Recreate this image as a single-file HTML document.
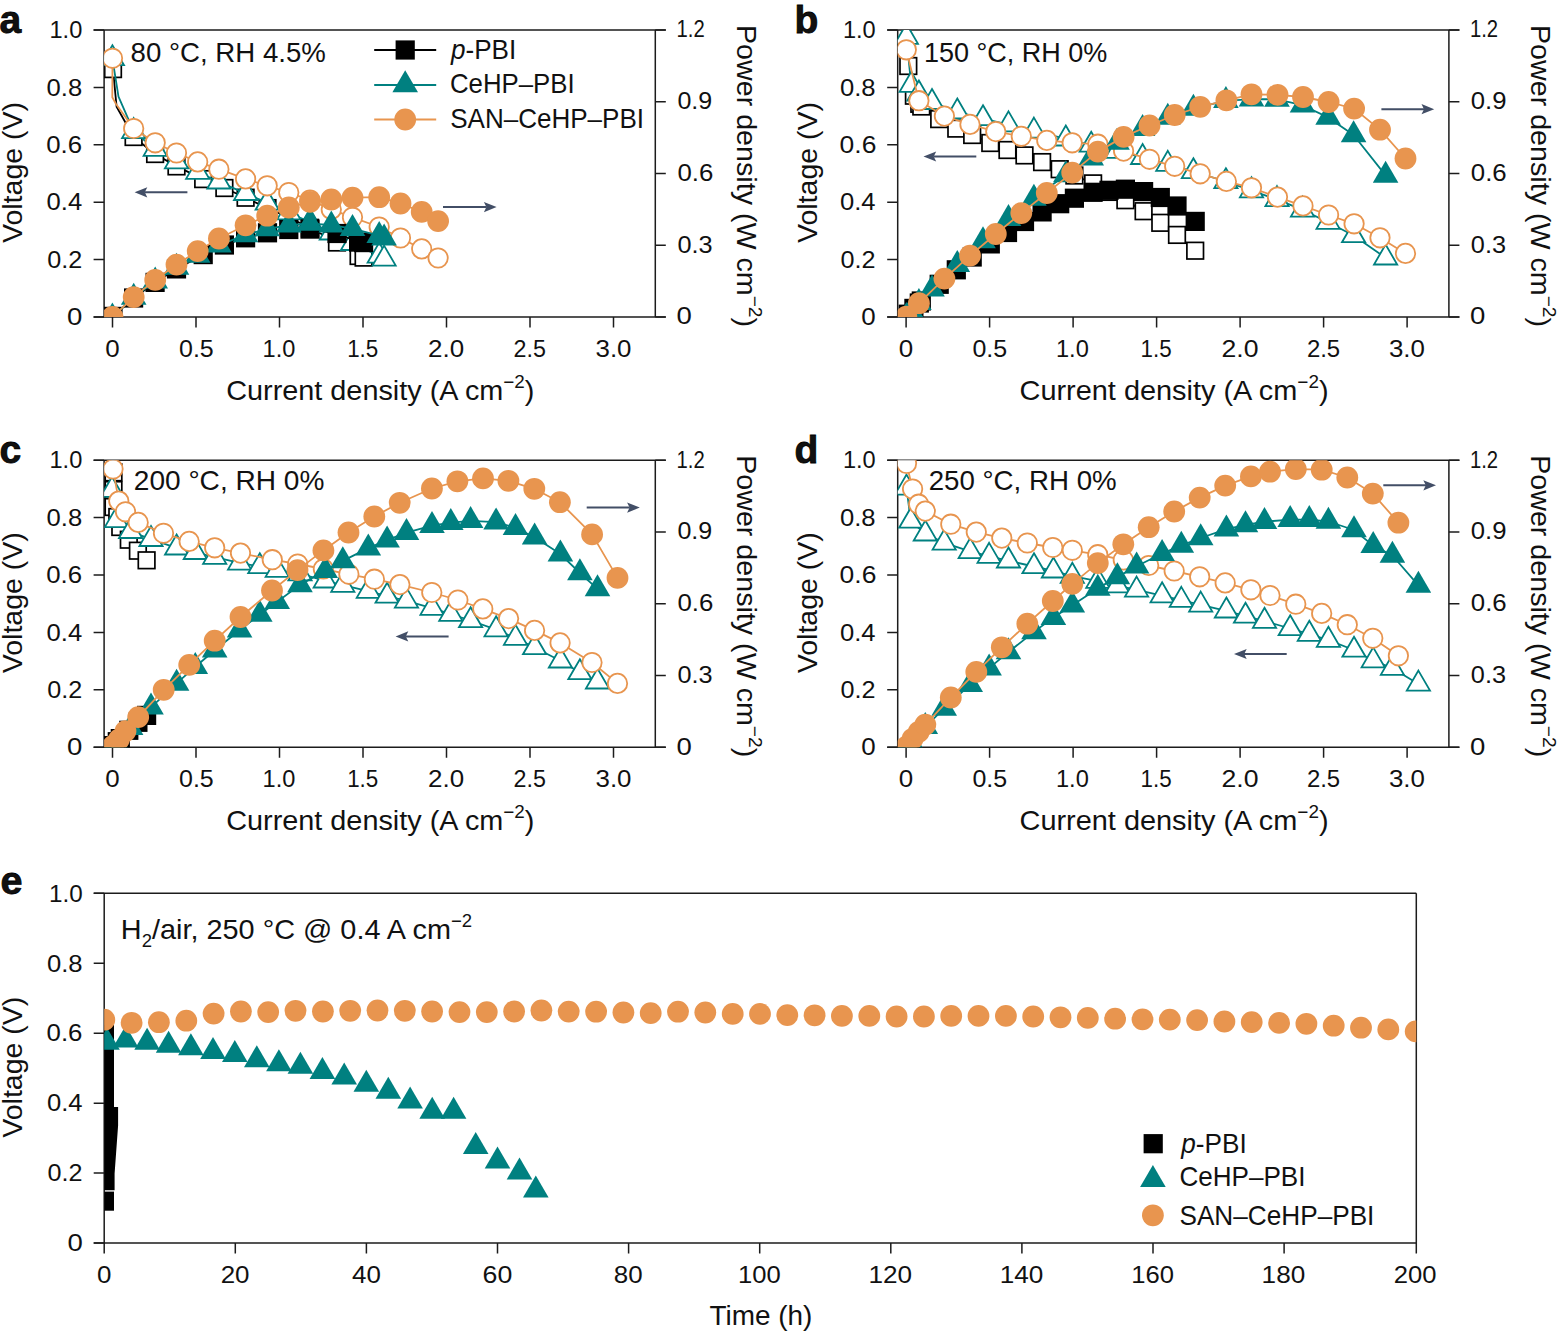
<!DOCTYPE html>
<html><head><meta charset="utf-8"><style>
html,body{margin:0;padding:0;background:#fff;}
svg{display:block;font-family:"Liberation Sans", sans-serif;}
</style></head><body>
<svg width="1566" height="1331" viewBox="0 0 1566 1331" fill="#111">
<path d="M93.6 30.0H665.8M93.6 317.0H665.8M104.1 30.0V317.0M655.3 30.0V317.0" stroke="#1c1c1c" stroke-width="1.5" fill="none"/>
<text x="67.04" y="325.2" font-size="24" font-weight="normal" textLength="15.34" lengthAdjust="spacingAndGlyphs" >0</text>
<text x="47.20" y="267.8" font-size="24" font-weight="normal" textLength="34.99" lengthAdjust="spacingAndGlyphs" >0.2</text>
<text x="46.57" y="210.4" font-size="24" font-weight="normal" textLength="35.62" lengthAdjust="spacingAndGlyphs" >0.4</text>
<text x="46.20" y="153.0" font-size="24" font-weight="normal" textLength="35.90" lengthAdjust="spacingAndGlyphs" >0.6</text>
<text x="46.57" y="95.6" font-size="24" font-weight="normal" textLength="35.62" lengthAdjust="spacingAndGlyphs" >0.8</text>
<text x="49.46" y="38.2" font-size="24" font-weight="normal" textLength="32.83" lengthAdjust="spacingAndGlyphs" >1.0</text>
<text x="676.52" y="324.4" font-size="24" font-weight="normal" textLength="15.34" lengthAdjust="spacingAndGlyphs" >0</text>
<text x="677.42" y="252.7" font-size="24" font-weight="normal" textLength="35.17" lengthAdjust="spacingAndGlyphs" >0.3</text>
<text x="677.42" y="180.9" font-size="24" font-weight="normal" textLength="35.90" lengthAdjust="spacingAndGlyphs" >0.6</text>
<text x="677.42" y="109.2" font-size="24" font-weight="normal" textLength="34.82" lengthAdjust="spacingAndGlyphs" >0.9</text>
<text x="676.52" y="37.4" font-size="24" font-weight="normal" textLength="28.15" lengthAdjust="spacingAndGlyphs" >1.2</text>
<text x="105.26" y="357.2" font-size="24" font-weight="normal" textLength="14.44" lengthAdjust="spacingAndGlyphs" >0</text>
<text x="179.03" y="357.2" font-size="24" font-weight="normal" textLength="34.73" lengthAdjust="spacingAndGlyphs" >0.5</text>
<text x="262.57" y="357.2" font-size="24" font-weight="normal" textLength="32.83" lengthAdjust="spacingAndGlyphs" >1.0</text>
<text x="347.18" y="357.2" font-size="24" font-weight="normal" textLength="31.12" lengthAdjust="spacingAndGlyphs" >1.5</text>
<text x="428.10" y="357.2" font-size="24" font-weight="normal" textLength="36.08" lengthAdjust="spacingAndGlyphs" >2.0</text>
<text x="513.50" y="357.2" font-size="24" font-weight="normal" textLength="32.38" lengthAdjust="spacingAndGlyphs" >2.5</text>
<text x="595.50" y="357.2" font-size="24" font-weight="normal" textLength="35.98" lengthAdjust="spacingAndGlyphs" >3.0</text>
<path d="M93.6 317.0H104.1M93.6 259.6H104.1M93.6 202.2H104.1M93.6 144.8H104.1M93.6 87.4H104.1M93.6 30.0H104.1M655.3 317.0H665.8M655.3 245.2H665.8M655.3 173.5H665.8M655.3 101.8H665.8M655.3 30.0H665.8M112.5 317.0V327.5M196.0 317.0V327.5M279.5 317.0V327.5M363.0 317.0V327.5M446.5 317.0V327.5M530.0 317.0V327.5M613.5 317.0V327.5" stroke="#1c1c1c" stroke-width="1.5" fill="none"/>
<text x="226.24" y="400.0" font-size="27.5" font-weight="normal" textLength="308.21" lengthAdjust="spacingAndGlyphs" >Current density (A cm<tspan dy="-12" font-size="18">&#8722;2</tspan><tspan dy="12">)</tspan></text>
<text transform="translate(21.6,243.0) rotate(-90)" font-size="27" x="0" y="0" textLength="141" lengthAdjust="spacingAndGlyphs">Voltage (V)</text>
<text transform="translate(737.3,25.0) rotate(90)" font-size="27" x="0" y="0" textLength="302" lengthAdjust="spacingAndGlyphs">Power density (W cm<tspan dy="-12" font-size="18">&#8722;2</tspan><tspan dy="12">)</tspan></text>
<text x="-0.4" y="33.0" font-size="39" text-anchor="start" font-weight="bold" stroke="#000" stroke-width="0.8">a</text>
<text x="130.62" y="62.0" font-size="28" font-weight="normal" textLength="195.33" lengthAdjust="spacingAndGlyphs" >80 °C, RH 4.5%</text>
<path d="M887.2 30.0H1459.4M887.2 317.0H1459.4M897.7 30.0V317.0M1448.9 30.0V317.0" stroke="#1c1c1c" stroke-width="1.5" fill="none"/>
<text x="861.36" y="325.2" font-size="24" font-weight="normal" textLength="14.44" lengthAdjust="spacingAndGlyphs" >0</text>
<text x="840.62" y="267.8" font-size="24" font-weight="normal" textLength="35.00" lengthAdjust="spacingAndGlyphs" >0.2</text>
<text x="839.99" y="210.4" font-size="24" font-weight="normal" textLength="35.63" lengthAdjust="spacingAndGlyphs" >0.4</text>
<text x="839.62" y="153.0" font-size="24" font-weight="normal" textLength="36.80" lengthAdjust="spacingAndGlyphs" >0.6</text>
<text x="839.99" y="95.6" font-size="24" font-weight="normal" textLength="35.62" lengthAdjust="spacingAndGlyphs" >0.8</text>
<text x="842.88" y="38.2" font-size="24" font-weight="normal" textLength="32.83" lengthAdjust="spacingAndGlyphs" >1.0</text>
<text x="1469.94" y="324.4" font-size="24" font-weight="normal" textLength="15.34" lengthAdjust="spacingAndGlyphs" >0</text>
<text x="1470.84" y="252.7" font-size="24" font-weight="normal" textLength="35.17" lengthAdjust="spacingAndGlyphs" >0.3</text>
<text x="1470.84" y="180.9" font-size="24" font-weight="normal" textLength="35.89" lengthAdjust="spacingAndGlyphs" >0.6</text>
<text x="1470.84" y="109.2" font-size="24" font-weight="normal" textLength="35.72" lengthAdjust="spacingAndGlyphs" >0.9</text>
<text x="1469.94" y="37.4" font-size="24" font-weight="normal" textLength="28.16" lengthAdjust="spacingAndGlyphs" >1.2</text>
<text x="898.68" y="357.2" font-size="24" font-weight="normal" textLength="14.44" lengthAdjust="spacingAndGlyphs" >0</text>
<text x="972.45" y="357.2" font-size="24" font-weight="normal" textLength="34.73" lengthAdjust="spacingAndGlyphs" >0.5</text>
<text x="1055.99" y="357.2" font-size="24" font-weight="normal" textLength="32.84" lengthAdjust="spacingAndGlyphs" >1.0</text>
<text x="1140.59" y="357.2" font-size="24" font-weight="normal" textLength="31.12" lengthAdjust="spacingAndGlyphs" >1.5</text>
<text x="1221.52" y="357.2" font-size="24" font-weight="normal" textLength="36.98" lengthAdjust="spacingAndGlyphs" >2.0</text>
<text x="1306.91" y="357.2" font-size="24" font-weight="normal" textLength="33.29" lengthAdjust="spacingAndGlyphs" >2.5</text>
<text x="1388.91" y="357.2" font-size="24" font-weight="normal" textLength="35.99" lengthAdjust="spacingAndGlyphs" >3.0</text>
<path d="M887.2 317.0H897.7M887.2 259.6H897.7M887.2 202.2H897.7M887.2 144.8H897.7M887.2 87.4H897.7M887.2 30.0H897.7M1448.9 317.0H1459.4M1448.9 245.2H1459.4M1448.9 173.5H1459.4M1448.9 101.8H1459.4M1448.9 30.0H1459.4M906.1 317.0V327.5M989.6 317.0V327.5M1073.1 317.0V327.5M1156.6 317.0V327.5M1240.1 317.0V327.5M1323.6 317.0V327.5M1407.1 317.0V327.5" stroke="#1c1c1c" stroke-width="1.5" fill="none"/>
<text x="1019.56" y="400.0" font-size="27.5" font-weight="normal" textLength="309.01" lengthAdjust="spacingAndGlyphs" >Current density (A cm<tspan dy="-12" font-size="18">&#8722;2</tspan><tspan dy="12">)</tspan></text>
<text transform="translate(817.0,243.0) rotate(-90)" font-size="27" x="0" y="0" textLength="141" lengthAdjust="spacingAndGlyphs">Voltage (V)</text>
<text transform="translate(1530.9,25.0) rotate(90)" font-size="27" x="0" y="0" textLength="302" lengthAdjust="spacingAndGlyphs">Power density (W cm<tspan dy="-12" font-size="18">&#8722;2</tspan><tspan dy="12">)</tspan></text>
<text x="794.4" y="33.0" font-size="39" text-anchor="start" font-weight="bold" stroke="#000" stroke-width="0.8">b</text>
<text x="923.95" y="62.0" font-size="28" font-weight="normal" textLength="183.41" lengthAdjust="spacingAndGlyphs" >150 °C, RH 0%</text>
<path d="M93.6 460.2H665.8M93.6 747.2H665.8M104.1 460.2V747.2M655.3 460.2V747.2" stroke="#1c1c1c" stroke-width="1.5" fill="none"/>
<text x="67.04" y="755.4" font-size="24" font-weight="normal" textLength="15.34" lengthAdjust="spacingAndGlyphs" >0</text>
<text x="47.20" y="698.0" font-size="24" font-weight="normal" textLength="34.99" lengthAdjust="spacingAndGlyphs" >0.2</text>
<text x="46.57" y="640.6" font-size="24" font-weight="normal" textLength="35.62" lengthAdjust="spacingAndGlyphs" >0.4</text>
<text x="46.20" y="583.2" font-size="24" font-weight="normal" textLength="35.90" lengthAdjust="spacingAndGlyphs" >0.6</text>
<text x="46.57" y="525.8" font-size="24" font-weight="normal" textLength="35.62" lengthAdjust="spacingAndGlyphs" >0.8</text>
<text x="49.46" y="468.4" font-size="24" font-weight="normal" textLength="32.83" lengthAdjust="spacingAndGlyphs" >1.0</text>
<text x="676.52" y="754.6" font-size="24" font-weight="normal" textLength="15.34" lengthAdjust="spacingAndGlyphs" >0</text>
<text x="677.42" y="682.9" font-size="24" font-weight="normal" textLength="35.17" lengthAdjust="spacingAndGlyphs" >0.3</text>
<text x="677.42" y="611.1" font-size="24" font-weight="normal" textLength="35.90" lengthAdjust="spacingAndGlyphs" >0.6</text>
<text x="677.42" y="539.4" font-size="24" font-weight="normal" textLength="34.82" lengthAdjust="spacingAndGlyphs" >0.9</text>
<text x="676.52" y="467.6" font-size="24" font-weight="normal" textLength="28.15" lengthAdjust="spacingAndGlyphs" >1.2</text>
<text x="105.26" y="787.4" font-size="24" font-weight="normal" textLength="14.44" lengthAdjust="spacingAndGlyphs" >0</text>
<text x="179.03" y="787.4" font-size="24" font-weight="normal" textLength="34.73" lengthAdjust="spacingAndGlyphs" >0.5</text>
<text x="262.57" y="787.4" font-size="24" font-weight="normal" textLength="32.83" lengthAdjust="spacingAndGlyphs" >1.0</text>
<text x="347.18" y="787.4" font-size="24" font-weight="normal" textLength="31.12" lengthAdjust="spacingAndGlyphs" >1.5</text>
<text x="428.10" y="787.4" font-size="24" font-weight="normal" textLength="36.08" lengthAdjust="spacingAndGlyphs" >2.0</text>
<text x="513.50" y="787.4" font-size="24" font-weight="normal" textLength="32.38" lengthAdjust="spacingAndGlyphs" >2.5</text>
<text x="595.50" y="787.4" font-size="24" font-weight="normal" textLength="35.98" lengthAdjust="spacingAndGlyphs" >3.0</text>
<path d="M93.6 747.2H104.1M93.6 689.8H104.1M93.6 632.4H104.1M93.6 575.0H104.1M93.6 517.6H104.1M93.6 460.2H104.1M655.3 747.2H665.8M655.3 675.5H665.8M655.3 603.7H665.8M655.3 532.0H665.8M655.3 460.2H665.8M112.5 747.2V757.7M196.0 747.2V757.7M279.5 747.2V757.7M363.0 747.2V757.7M446.5 747.2V757.7M530.0 747.2V757.7M613.5 747.2V757.7" stroke="#1c1c1c" stroke-width="1.5" fill="none"/>
<text x="226.24" y="830.2" font-size="27.5" font-weight="normal" textLength="308.21" lengthAdjust="spacingAndGlyphs" >Current density (A cm<tspan dy="-12" font-size="18">&#8722;2</tspan><tspan dy="12">)</tspan></text>
<text transform="translate(21.6,673.2) rotate(-90)" font-size="27" x="0" y="0" textLength="141" lengthAdjust="spacingAndGlyphs">Voltage (V)</text>
<text transform="translate(737.3,455.2) rotate(90)" font-size="27" x="0" y="0" textLength="302" lengthAdjust="spacingAndGlyphs">Power density (W cm<tspan dy="-12" font-size="18">&#8722;2</tspan><tspan dy="12">)</tspan></text>
<text x="-0.4" y="463.2" font-size="39" text-anchor="start" font-weight="bold" stroke="#000" stroke-width="0.8">c</text>
<text x="133.81" y="490.0" font-size="28" font-weight="normal" textLength="190.55" lengthAdjust="spacingAndGlyphs" >200 °C, RH 0%</text>
<path d="M887.2 460.2H1459.4M887.2 747.2H1459.4M897.7 460.2V747.2M1448.9 460.2V747.2" stroke="#1c1c1c" stroke-width="1.5" fill="none"/>
<text x="861.36" y="755.4" font-size="24" font-weight="normal" textLength="14.44" lengthAdjust="spacingAndGlyphs" >0</text>
<text x="840.62" y="698.0" font-size="24" font-weight="normal" textLength="35.00" lengthAdjust="spacingAndGlyphs" >0.2</text>
<text x="839.99" y="640.6" font-size="24" font-weight="normal" textLength="35.63" lengthAdjust="spacingAndGlyphs" >0.4</text>
<text x="839.62" y="583.2" font-size="24" font-weight="normal" textLength="36.80" lengthAdjust="spacingAndGlyphs" >0.6</text>
<text x="839.99" y="525.8" font-size="24" font-weight="normal" textLength="35.62" lengthAdjust="spacingAndGlyphs" >0.8</text>
<text x="842.88" y="468.4" font-size="24" font-weight="normal" textLength="32.83" lengthAdjust="spacingAndGlyphs" >1.0</text>
<text x="1469.94" y="754.6" font-size="24" font-weight="normal" textLength="15.34" lengthAdjust="spacingAndGlyphs" >0</text>
<text x="1470.84" y="682.9" font-size="24" font-weight="normal" textLength="35.17" lengthAdjust="spacingAndGlyphs" >0.3</text>
<text x="1470.84" y="611.1" font-size="24" font-weight="normal" textLength="35.89" lengthAdjust="spacingAndGlyphs" >0.6</text>
<text x="1470.84" y="539.4" font-size="24" font-weight="normal" textLength="35.72" lengthAdjust="spacingAndGlyphs" >0.9</text>
<text x="1469.94" y="467.6" font-size="24" font-weight="normal" textLength="28.16" lengthAdjust="spacingAndGlyphs" >1.2</text>
<text x="898.68" y="787.4" font-size="24" font-weight="normal" textLength="14.44" lengthAdjust="spacingAndGlyphs" >0</text>
<text x="972.45" y="787.4" font-size="24" font-weight="normal" textLength="34.73" lengthAdjust="spacingAndGlyphs" >0.5</text>
<text x="1055.99" y="787.4" font-size="24" font-weight="normal" textLength="32.84" lengthAdjust="spacingAndGlyphs" >1.0</text>
<text x="1140.59" y="787.4" font-size="24" font-weight="normal" textLength="31.12" lengthAdjust="spacingAndGlyphs" >1.5</text>
<text x="1221.52" y="787.4" font-size="24" font-weight="normal" textLength="36.98" lengthAdjust="spacingAndGlyphs" >2.0</text>
<text x="1306.91" y="787.4" font-size="24" font-weight="normal" textLength="33.29" lengthAdjust="spacingAndGlyphs" >2.5</text>
<text x="1388.91" y="787.4" font-size="24" font-weight="normal" textLength="35.99" lengthAdjust="spacingAndGlyphs" >3.0</text>
<path d="M887.2 747.2H897.7M887.2 689.8H897.7M887.2 632.4H897.7M887.2 575.0H897.7M887.2 517.6H897.7M887.2 460.2H897.7M1448.9 747.2H1459.4M1448.9 675.5H1459.4M1448.9 603.7H1459.4M1448.9 532.0H1459.4M1448.9 460.2H1459.4M906.1 747.2V757.7M989.6 747.2V757.7M1073.1 747.2V757.7M1156.6 747.2V757.7M1240.1 747.2V757.7M1323.6 747.2V757.7M1407.1 747.2V757.7" stroke="#1c1c1c" stroke-width="1.5" fill="none"/>
<text x="1019.56" y="830.2" font-size="27.5" font-weight="normal" textLength="309.01" lengthAdjust="spacingAndGlyphs" >Current density (A cm<tspan dy="-12" font-size="18">&#8722;2</tspan><tspan dy="12">)</tspan></text>
<text transform="translate(817.0,673.2) rotate(-90)" font-size="27" x="0" y="0" textLength="141" lengthAdjust="spacingAndGlyphs">Voltage (V)</text>
<text transform="translate(1530.9,455.2) rotate(90)" font-size="27" x="0" y="0" textLength="302" lengthAdjust="spacingAndGlyphs">Power density (W cm<tspan dy="-12" font-size="18">&#8722;2</tspan><tspan dy="12">)</tspan></text>
<text x="794.4" y="463.2" font-size="39" text-anchor="start" font-weight="bold" stroke="#000" stroke-width="0.8">d</text>
<text x="928.67" y="490.0" font-size="28" font-weight="normal" textLength="188.02" lengthAdjust="spacingAndGlyphs" >250 °C, RH 0%</text>
<clipPath id="clip00"><rect x="104.1" y="30.0" width="551.2" height="287.0"/></clipPath>
<g clip-path="url(#clip00)">
<path d="M113.0 69.1L116.6 106.8L133.6 137.0L155.1 154.0L176.5 166.4L203.2 179.1L224.4 188.0L245.6 197.7L267.5 208.1L288.8 217.5L310.0 227.8L337.0 242.5L358.6 256.0L363.6 257.6" fill="none" stroke="#000" stroke-width="1.8" stroke-linejoin="round"/><rect x="104.7" y="60.8" width="16.6" height="16.6" fill="#fff" stroke="#000" stroke-width="1.7"/><rect x="125.3" y="128.7" width="16.6" height="16.6" fill="#fff" stroke="#000" stroke-width="1.7"/><rect x="146.8" y="145.7" width="16.6" height="16.6" fill="#fff" stroke="#000" stroke-width="1.7"/><rect x="168.2" y="158.1" width="16.6" height="16.6" fill="#fff" stroke="#000" stroke-width="1.7"/><rect x="194.9" y="170.8" width="16.6" height="16.6" fill="#fff" stroke="#000" stroke-width="1.7"/><rect x="216.1" y="179.7" width="16.6" height="16.6" fill="#fff" stroke="#000" stroke-width="1.7"/><rect x="237.3" y="189.4" width="16.6" height="16.6" fill="#fff" stroke="#000" stroke-width="1.7"/><rect x="259.2" y="199.8" width="16.6" height="16.6" fill="#fff" stroke="#000" stroke-width="1.7"/><rect x="280.5" y="209.2" width="16.6" height="16.6" fill="#fff" stroke="#000" stroke-width="1.7"/><rect x="301.7" y="219.5" width="16.6" height="16.6" fill="#fff" stroke="#000" stroke-width="1.7"/><rect x="328.7" y="234.2" width="16.6" height="16.6" fill="#fff" stroke="#000" stroke-width="1.7"/><rect x="350.3" y="247.7" width="16.6" height="16.6" fill="#fff" stroke="#000" stroke-width="1.7"/><rect x="355.3" y="249.3" width="16.6" height="16.6" fill="#fff" stroke="#000" stroke-width="1.7"/>
<path d="M112.4 58.5L118.5 96.6L133.7 131.4L155.2 149.2L176.5 161.7L197.7 172.1L218.9 181.8L245.6 193.3L267.2 203.0L288.8 212.7L310.0 222.1L331.3 232.8L352.5 243.3L379.2 255.9L384.1 258.9" fill="none" stroke="#008080" stroke-width="1.8" stroke-linejoin="round"/><path d="M112.4 45.2L124.0 65.2H100.8Z" fill="#fff" stroke="#008080" stroke-width="1.8"/><path d="M133.7 118.1L145.3 138.1H122.1Z" fill="#fff" stroke="#008080" stroke-width="1.8"/><path d="M155.2 135.9L166.8 155.9H143.6Z" fill="#fff" stroke="#008080" stroke-width="1.8"/><path d="M176.5 148.4L188.1 168.4H164.9Z" fill="#fff" stroke="#008080" stroke-width="1.8"/><path d="M197.7 158.8L209.3 178.8H186.1Z" fill="#fff" stroke="#008080" stroke-width="1.8"/><path d="M218.9 168.5L230.5 188.5H207.3Z" fill="#fff" stroke="#008080" stroke-width="1.8"/><path d="M245.6 180.0L257.2 200.0H234.0Z" fill="#fff" stroke="#008080" stroke-width="1.8"/><path d="M267.2 189.7L278.8 209.7H255.6Z" fill="#fff" stroke="#008080" stroke-width="1.8"/><path d="M288.8 199.4L300.4 219.4H277.2Z" fill="#fff" stroke="#008080" stroke-width="1.8"/><path d="M310.0 208.8L321.6 228.8H298.4Z" fill="#fff" stroke="#008080" stroke-width="1.8"/><path d="M331.3 219.5L342.9 239.5H319.7Z" fill="#fff" stroke="#008080" stroke-width="1.8"/><path d="M352.5 230.0L364.1 250.0H340.9Z" fill="#fff" stroke="#008080" stroke-width="1.8"/><path d="M379.2 242.6L390.8 262.6H367.6Z" fill="#fff" stroke="#008080" stroke-width="1.8"/><path d="M384.1 245.6L395.7 265.6H372.5Z" fill="#fff" stroke="#008080" stroke-width="1.8"/>
<path d="M112.5 58.3L112.3 97.3L116.0 104.0L133.7 128.5L155.2 142.8L176.5 153.0L197.7 161.9L218.9 169.2L245.6 178.9L267.2 185.8L288.8 192.5L310.0 200.1L331.3 209.4L352.5 217.3L379.2 227.0L400.5 238.0L421.7 248.9L438.1 258.0" fill="none" stroke="#E8954F" stroke-width="1.8" stroke-linejoin="round"/><circle cx="112.5" cy="58.3" r="9.7" fill="#fff" stroke="#E8954F" stroke-width="1.8"/><circle cx="133.7" cy="128.5" r="9.7" fill="#fff" stroke="#E8954F" stroke-width="1.8"/><circle cx="155.2" cy="142.8" r="9.7" fill="#fff" stroke="#E8954F" stroke-width="1.8"/><circle cx="176.5" cy="153.0" r="9.7" fill="#fff" stroke="#E8954F" stroke-width="1.8"/><circle cx="197.7" cy="161.9" r="9.7" fill="#fff" stroke="#E8954F" stroke-width="1.8"/><circle cx="218.9" cy="169.2" r="9.7" fill="#fff" stroke="#E8954F" stroke-width="1.8"/><circle cx="245.6" cy="178.9" r="9.7" fill="#fff" stroke="#E8954F" stroke-width="1.8"/><circle cx="267.2" cy="185.8" r="9.7" fill="#fff" stroke="#E8954F" stroke-width="1.8"/><circle cx="288.8" cy="192.5" r="9.7" fill="#fff" stroke="#E8954F" stroke-width="1.8"/><circle cx="310.0" cy="200.1" r="9.7" fill="#fff" stroke="#E8954F" stroke-width="1.8"/><circle cx="331.3" cy="209.4" r="9.7" fill="#fff" stroke="#E8954F" stroke-width="1.8"/><circle cx="352.5" cy="217.3" r="9.7" fill="#fff" stroke="#E8954F" stroke-width="1.8"/><circle cx="379.2" cy="227.0" r="9.7" fill="#fff" stroke="#E8954F" stroke-width="1.8"/><circle cx="400.5" cy="238.0" r="9.7" fill="#fff" stroke="#E8954F" stroke-width="1.8"/><circle cx="421.7" cy="248.9" r="9.7" fill="#fff" stroke="#E8954F" stroke-width="1.8"/><circle cx="438.1" cy="258.0" r="9.7" fill="#fff" stroke="#E8954F" stroke-width="1.8"/>
<path d="M113.0 316.4L133.6 298.0L155.1 282.4L176.5 268.9L203.2 254.6L224.4 245.0L245.6 237.8L267.5 232.8L288.8 229.5L310.0 229.1L337.0 233.5L358.6 242.1L363.6 242.6" fill="none" stroke="#000" stroke-width="1.8" stroke-linejoin="round"/><rect x="103.4" y="306.8" width="19.2" height="19.2" fill="#000"/><rect x="124.0" y="288.4" width="19.2" height="19.2" fill="#000"/><rect x="145.5" y="272.8" width="19.2" height="19.2" fill="#000"/><rect x="166.9" y="259.3" width="19.2" height="19.2" fill="#000"/><rect x="193.6" y="245.0" width="19.2" height="19.2" fill="#000"/><rect x="214.8" y="235.4" width="19.2" height="19.2" fill="#000"/><rect x="236.0" y="228.2" width="19.2" height="19.2" fill="#000"/><rect x="257.9" y="223.2" width="19.2" height="19.2" fill="#000"/><rect x="279.2" y="219.9" width="19.2" height="19.2" fill="#000"/><rect x="300.4" y="219.5" width="19.2" height="19.2" fill="#000"/><rect x="327.4" y="223.9" width="19.2" height="19.2" fill="#000"/><rect x="349.0" y="232.5" width="19.2" height="19.2" fill="#000"/><rect x="354.0" y="233.0" width="19.2" height="19.2" fill="#000"/>
<path d="M112.4 317.1L133.7 297.4L155.2 281.2L176.5 267.4L197.7 255.4L218.9 245.2L245.6 234.8L267.2 229.0L288.8 225.2L310.0 223.5L331.3 225.1L352.5 228.7L379.2 235.7L384.1 238.3" fill="none" stroke="#008080" stroke-width="1.8" stroke-linejoin="round"/><path d="M112.4 302.5L125.2 324.5H99.6Z" fill="#008080"/><path d="M133.7 282.7L146.5 304.7H120.9Z" fill="#008080"/><path d="M155.2 266.6L168.0 288.6H142.4Z" fill="#008080"/><path d="M176.5 252.7L189.3 274.7H163.7Z" fill="#008080"/><path d="M197.7 240.7L210.5 262.7H184.9Z" fill="#008080"/><path d="M218.9 230.6L231.7 252.6H206.1Z" fill="#008080"/><path d="M245.6 220.2L258.4 242.2H232.8Z" fill="#008080"/><path d="M267.2 214.3L280.0 236.3H254.4Z" fill="#008080"/><path d="M288.8 210.6L301.6 232.6H276.0Z" fill="#008080"/><path d="M310.0 208.8L322.8 230.8H297.2Z" fill="#008080"/><path d="M331.3 210.4L344.1 232.4H318.5Z" fill="#008080"/><path d="M352.5 214.1L365.3 236.1H339.7Z" fill="#008080"/><path d="M379.2 221.0L392.0 243.0H366.4Z" fill="#008080"/><path d="M384.1 223.6L396.9 245.6H371.3Z" fill="#008080"/>
<path d="M112.5 317.0L133.7 297.1L155.2 279.9L176.5 264.6L197.7 251.1L218.9 238.5L245.6 225.3L267.2 215.7L288.8 207.5L310.0 201.8L331.3 199.5L352.5 197.6L379.2 197.2L400.5 203.5L421.7 211.9L438.1 221.1" fill="none" stroke="#E8954F" stroke-width="1.8" stroke-linejoin="round"/><circle cx="112.5" cy="317.0" r="10.9" fill="#E8954F"/><circle cx="133.7" cy="297.1" r="10.9" fill="#E8954F"/><circle cx="155.2" cy="279.9" r="10.9" fill="#E8954F"/><circle cx="176.5" cy="264.6" r="10.9" fill="#E8954F"/><circle cx="197.7" cy="251.1" r="10.9" fill="#E8954F"/><circle cx="218.9" cy="238.5" r="10.9" fill="#E8954F"/><circle cx="245.6" cy="225.3" r="10.9" fill="#E8954F"/><circle cx="267.2" cy="215.7" r="10.9" fill="#E8954F"/><circle cx="288.8" cy="207.5" r="10.9" fill="#E8954F"/><circle cx="310.0" cy="201.8" r="10.9" fill="#E8954F"/><circle cx="331.3" cy="199.5" r="10.9" fill="#E8954F"/><circle cx="352.5" cy="197.6" r="10.9" fill="#E8954F"/><circle cx="379.2" cy="197.2" r="10.9" fill="#E8954F"/><circle cx="400.5" cy="203.5" r="10.9" fill="#E8954F"/><circle cx="421.7" cy="211.9" r="10.9" fill="#E8954F"/><circle cx="438.1" cy="221.1" r="10.9" fill="#E8954F"/>
</g>
<clipPath id="clip10"><rect x="897.7" y="30.0" width="551.2" height="287.0"/></clipPath>
<g clip-path="url(#clip10)">
<path d="M908.3 66.0L913.9 95.7L919.3 103.8L921.3 106.5L939.2 119.1L956.3 128.6L972.2 135.0L990.3 143.0L1007.5 150.0L1024.5 155.4L1042.1 162.1L1059.7 169.2L1074.4 175.5L1093.1 183.4L1109.0 191.9L1125.4 200.2L1143.6 211.2L1160.3 222.8L1177.0 234.9L1195.2 250.7" fill="none" stroke="#000" stroke-width="1.8" stroke-linejoin="round"/><rect x="900.0" y="57.7" width="16.6" height="16.6" fill="#fff" stroke="#000" stroke-width="1.7"/><rect x="905.6" y="87.4" width="16.6" height="16.6" fill="#fff" stroke="#000" stroke-width="1.7"/><rect x="911.0" y="95.5" width="16.6" height="16.6" fill="#fff" stroke="#000" stroke-width="1.7"/><rect x="913.0" y="98.2" width="16.6" height="16.6" fill="#fff" stroke="#000" stroke-width="1.7"/><rect x="930.9" y="110.8" width="16.6" height="16.6" fill="#fff" stroke="#000" stroke-width="1.7"/><rect x="948.0" y="120.3" width="16.6" height="16.6" fill="#fff" stroke="#000" stroke-width="1.7"/><rect x="963.9" y="126.7" width="16.6" height="16.6" fill="#fff" stroke="#000" stroke-width="1.7"/><rect x="982.0" y="134.7" width="16.6" height="16.6" fill="#fff" stroke="#000" stroke-width="1.7"/><rect x="999.2" y="141.7" width="16.6" height="16.6" fill="#fff" stroke="#000" stroke-width="1.7"/><rect x="1016.2" y="147.1" width="16.6" height="16.6" fill="#fff" stroke="#000" stroke-width="1.7"/><rect x="1033.8" y="153.8" width="16.6" height="16.6" fill="#fff" stroke="#000" stroke-width="1.7"/><rect x="1051.4" y="160.9" width="16.6" height="16.6" fill="#fff" stroke="#000" stroke-width="1.7"/><rect x="1066.1" y="167.2" width="16.6" height="16.6" fill="#fff" stroke="#000" stroke-width="1.7"/><rect x="1084.8" y="175.1" width="16.6" height="16.6" fill="#fff" stroke="#000" stroke-width="1.7"/><rect x="1100.7" y="183.6" width="16.6" height="16.6" fill="#fff" stroke="#000" stroke-width="1.7"/><rect x="1117.1" y="191.9" width="16.6" height="16.6" fill="#fff" stroke="#000" stroke-width="1.7"/><rect x="1135.3" y="202.9" width="16.6" height="16.6" fill="#fff" stroke="#000" stroke-width="1.7"/><rect x="1152.0" y="214.5" width="16.6" height="16.6" fill="#fff" stroke="#000" stroke-width="1.7"/><rect x="1168.7" y="226.6" width="16.6" height="16.6" fill="#fff" stroke="#000" stroke-width="1.7"/><rect x="1186.9" y="242.4" width="16.6" height="16.6" fill="#fff" stroke="#000" stroke-width="1.7"/>
<path d="M906.4 37.1L911.2 85.1L918.9 93.8L932.0 102.3L957.3 111.8L983.0 118.5L1008.5 124.7L1033.9 130.9L1065.8 138.8L1091.2 145.0L1117.0 151.2L1142.6 157.3L1167.8 164.2L1193.4 171.5L1225.9 181.5L1251.5 190.6L1277.0 199.4L1302.5 209.9L1328.1 222.2L1353.6 235.5L1385.6 257.8" fill="none" stroke="#008080" stroke-width="1.8" stroke-linejoin="round"/><path d="M906.4 23.8L918.0 43.8H894.8Z" fill="#fff" stroke="#008080" stroke-width="1.8"/><path d="M911.2 71.8L922.8 91.8H899.6Z" fill="#fff" stroke="#008080" stroke-width="1.8"/><path d="M918.9 80.5L930.5 100.5H907.3Z" fill="#fff" stroke="#008080" stroke-width="1.8"/><path d="M932.0 89.0L943.6 109.0H920.4Z" fill="#fff" stroke="#008080" stroke-width="1.8"/><path d="M957.3 98.5L968.9 118.5H945.7Z" fill="#fff" stroke="#008080" stroke-width="1.8"/><path d="M983.0 105.2L994.6 125.2H971.4Z" fill="#fff" stroke="#008080" stroke-width="1.8"/><path d="M1008.5 111.4L1020.1 131.4H996.9Z" fill="#fff" stroke="#008080" stroke-width="1.8"/><path d="M1033.9 117.6L1045.5 137.6H1022.3Z" fill="#fff" stroke="#008080" stroke-width="1.8"/><path d="M1065.8 125.5L1077.4 145.5H1054.2Z" fill="#fff" stroke="#008080" stroke-width="1.8"/><path d="M1091.2 131.7L1102.8 151.7H1079.6Z" fill="#fff" stroke="#008080" stroke-width="1.8"/><path d="M1117.0 137.9L1128.6 157.9H1105.4Z" fill="#fff" stroke="#008080" stroke-width="1.8"/><path d="M1142.6 144.0L1154.2 164.0H1131.0Z" fill="#fff" stroke="#008080" stroke-width="1.8"/><path d="M1167.8 150.9L1179.4 170.9H1156.2Z" fill="#fff" stroke="#008080" stroke-width="1.8"/><path d="M1193.4 158.2L1205.0 178.2H1181.8Z" fill="#fff" stroke="#008080" stroke-width="1.8"/><path d="M1225.9 168.2L1237.5 188.2H1214.3Z" fill="#fff" stroke="#008080" stroke-width="1.8"/><path d="M1251.5 177.3L1263.1 197.3H1239.9Z" fill="#fff" stroke="#008080" stroke-width="1.8"/><path d="M1277.0 186.1L1288.6 206.1H1265.4Z" fill="#fff" stroke="#008080" stroke-width="1.8"/><path d="M1302.5 196.6L1314.1 216.6H1290.9Z" fill="#fff" stroke="#008080" stroke-width="1.8"/><path d="M1328.1 208.9L1339.7 228.9H1316.5Z" fill="#fff" stroke="#008080" stroke-width="1.8"/><path d="M1353.6 222.2L1365.2 242.2H1342.0Z" fill="#fff" stroke="#008080" stroke-width="1.8"/><path d="M1385.6 244.5L1397.2 264.5H1374.0Z" fill="#fff" stroke="#008080" stroke-width="1.8"/>
<path d="M906.3 49.8L918.9 100.7L944.4 116.1L970.0 124.4L995.8 131.6L1021.3 136.3L1046.8 140.4L1072.2 142.8L1097.9 144.2L1123.6 151.1L1149.5 159.3L1174.7 166.3L1200.2 173.8L1226.4 181.4L1251.5 187.8L1277.5 197.1L1303.0 205.9L1328.6 215.0L1354.1 223.8L1380.0 237.8L1405.5 253.4" fill="none" stroke="#E8954F" stroke-width="1.8" stroke-linejoin="round"/><circle cx="906.3" cy="49.8" r="9.7" fill="#fff" stroke="#E8954F" stroke-width="1.8"/><circle cx="918.9" cy="100.7" r="9.7" fill="#fff" stroke="#E8954F" stroke-width="1.8"/><circle cx="944.4" cy="116.1" r="9.7" fill="#fff" stroke="#E8954F" stroke-width="1.8"/><circle cx="970.0" cy="124.4" r="9.7" fill="#fff" stroke="#E8954F" stroke-width="1.8"/><circle cx="995.8" cy="131.6" r="9.7" fill="#fff" stroke="#E8954F" stroke-width="1.8"/><circle cx="1021.3" cy="136.3" r="9.7" fill="#fff" stroke="#E8954F" stroke-width="1.8"/><circle cx="1046.8" cy="140.4" r="9.7" fill="#fff" stroke="#E8954F" stroke-width="1.8"/><circle cx="1072.2" cy="142.8" r="9.7" fill="#fff" stroke="#E8954F" stroke-width="1.8"/><circle cx="1097.9" cy="144.2" r="9.7" fill="#fff" stroke="#E8954F" stroke-width="1.8"/><circle cx="1123.6" cy="151.1" r="9.7" fill="#fff" stroke="#E8954F" stroke-width="1.8"/><circle cx="1149.5" cy="159.3" r="9.7" fill="#fff" stroke="#E8954F" stroke-width="1.8"/><circle cx="1174.7" cy="166.3" r="9.7" fill="#fff" stroke="#E8954F" stroke-width="1.8"/><circle cx="1200.2" cy="173.8" r="9.7" fill="#fff" stroke="#E8954F" stroke-width="1.8"/><circle cx="1226.4" cy="181.4" r="9.7" fill="#fff" stroke="#E8954F" stroke-width="1.8"/><circle cx="1251.5" cy="187.8" r="9.7" fill="#fff" stroke="#E8954F" stroke-width="1.8"/><circle cx="1277.5" cy="197.1" r="9.7" fill="#fff" stroke="#E8954F" stroke-width="1.8"/><circle cx="1303.0" cy="205.9" r="9.7" fill="#fff" stroke="#E8954F" stroke-width="1.8"/><circle cx="1328.6" cy="215.0" r="9.7" fill="#fff" stroke="#E8954F" stroke-width="1.8"/><circle cx="1354.1" cy="223.8" r="9.7" fill="#fff" stroke="#E8954F" stroke-width="1.8"/><circle cx="1380.0" cy="237.8" r="9.7" fill="#fff" stroke="#E8954F" stroke-width="1.8"/><circle cx="1405.5" cy="253.4" r="9.7" fill="#fff" stroke="#E8954F" stroke-width="1.8"/>
<path d="M908.3 314.2L913.9 308.4L919.3 303.0L921.3 301.0L939.2 284.3L956.3 269.8L972.2 257.0L990.3 243.9L1007.5 232.5L1024.5 221.5L1042.1 211.9L1059.7 203.7L1074.4 198.2L1093.1 192.3L1109.0 190.3L1125.4 189.2L1143.6 191.6L1160.3 197.5L1177.0 206.0L1195.2 221.4" fill="none" stroke="#000" stroke-width="1.8" stroke-linejoin="round"/><rect x="898.7" y="304.6" width="19.2" height="19.2" fill="#000"/><rect x="904.3" y="298.8" width="19.2" height="19.2" fill="#000"/><rect x="909.7" y="293.4" width="19.2" height="19.2" fill="#000"/><rect x="911.7" y="291.4" width="19.2" height="19.2" fill="#000"/><rect x="929.6" y="274.7" width="19.2" height="19.2" fill="#000"/><rect x="946.7" y="260.2" width="19.2" height="19.2" fill="#000"/><rect x="962.6" y="247.4" width="19.2" height="19.2" fill="#000"/><rect x="980.7" y="234.3" width="19.2" height="19.2" fill="#000"/><rect x="997.9" y="222.9" width="19.2" height="19.2" fill="#000"/><rect x="1014.9" y="211.9" width="19.2" height="19.2" fill="#000"/><rect x="1032.5" y="202.3" width="19.2" height="19.2" fill="#000"/><rect x="1050.1" y="194.1" width="19.2" height="19.2" fill="#000"/><rect x="1064.8" y="188.6" width="19.2" height="19.2" fill="#000"/><rect x="1083.5" y="182.7" width="19.2" height="19.2" fill="#000"/><rect x="1099.4" y="180.7" width="19.2" height="19.2" fill="#000"/><rect x="1115.8" y="179.6" width="19.2" height="19.2" fill="#000"/><rect x="1134.0" y="182.0" width="19.2" height="19.2" fill="#000"/><rect x="1150.7" y="187.9" width="19.2" height="19.2" fill="#000"/><rect x="1167.4" y="196.4" width="19.2" height="19.2" fill="#000"/><rect x="1185.6" y="211.8" width="19.2" height="19.2" fill="#000"/>
<path d="M906.4 316.6L911.2 311.1L918.9 302.7L932.0 289.3L957.3 264.6L983.0 240.8L1008.5 218.7L1033.9 198.3L1065.8 175.0L1091.2 158.1L1117.0 142.5L1142.6 128.5L1167.8 117.5L1193.4 108.4L1225.9 100.8L1251.5 99.1L1277.0 99.3L1302.5 105.2L1328.1 117.4L1353.6 135.0L1385.6 175.4" fill="none" stroke="#008080" stroke-width="1.8" stroke-linejoin="round"/><path d="M906.4 301.9L919.2 323.9H893.6Z" fill="#008080"/><path d="M911.2 296.4L924.0 318.4H898.4Z" fill="#008080"/><path d="M918.9 288.1L931.7 310.1H906.1Z" fill="#008080"/><path d="M932.0 274.6L944.8 296.6H919.2Z" fill="#008080"/><path d="M957.3 249.9L970.1 271.9H944.5Z" fill="#008080"/><path d="M983.0 226.2L995.8 248.2H970.2Z" fill="#008080"/><path d="M1008.5 204.1L1021.3 226.1H995.7Z" fill="#008080"/><path d="M1033.9 183.7L1046.7 205.7H1021.1Z" fill="#008080"/><path d="M1065.8 160.3L1078.6 182.3H1053.0Z" fill="#008080"/><path d="M1091.2 143.5L1104.0 165.5H1078.4Z" fill="#008080"/><path d="M1117.0 127.8L1129.8 149.8H1104.2Z" fill="#008080"/><path d="M1142.6 113.9L1155.4 135.9H1129.8Z" fill="#008080"/><path d="M1167.8 102.8L1180.6 124.8H1155.0Z" fill="#008080"/><path d="M1193.4 93.7L1206.2 115.7H1180.6Z" fill="#008080"/><path d="M1225.9 86.1L1238.7 108.1H1213.1Z" fill="#008080"/><path d="M1251.5 84.5L1264.3 106.5H1238.7Z" fill="#008080"/><path d="M1277.0 84.7L1289.8 106.7H1264.2Z" fill="#008080"/><path d="M1302.5 90.5L1315.3 112.5H1289.7Z" fill="#008080"/><path d="M1328.1 102.7L1340.9 124.7H1315.3Z" fill="#008080"/><path d="M1353.6 120.3L1366.4 142.3H1340.8Z" fill="#008080"/><path d="M1385.6 160.7L1398.4 182.7H1372.8Z" fill="#008080"/>
<path d="M906.3 316.7L918.9 303.2L944.4 278.6L970.0 255.6L995.8 234.0L1021.3 213.1L1046.8 193.0L1072.2 172.6L1097.9 151.6L1123.6 136.9L1149.5 125.5L1174.7 115.0L1200.2 106.8L1226.4 100.3L1251.5 94.3L1277.5 94.8L1303.0 97.0L1328.6 102.0L1354.1 108.6L1380.0 129.7L1405.5 158.5" fill="none" stroke="#E8954F" stroke-width="1.8" stroke-linejoin="round"/><circle cx="906.3" cy="316.7" r="10.9" fill="#E8954F"/><circle cx="918.9" cy="303.2" r="10.9" fill="#E8954F"/><circle cx="944.4" cy="278.6" r="10.9" fill="#E8954F"/><circle cx="970.0" cy="255.6" r="10.9" fill="#E8954F"/><circle cx="995.8" cy="234.0" r="10.9" fill="#E8954F"/><circle cx="1021.3" cy="213.1" r="10.9" fill="#E8954F"/><circle cx="1046.8" cy="193.0" r="10.9" fill="#E8954F"/><circle cx="1072.2" cy="172.6" r="10.9" fill="#E8954F"/><circle cx="1097.9" cy="151.6" r="10.9" fill="#E8954F"/><circle cx="1123.6" cy="136.9" r="10.9" fill="#E8954F"/><circle cx="1149.5" cy="125.5" r="10.9" fill="#E8954F"/><circle cx="1174.7" cy="115.0" r="10.9" fill="#E8954F"/><circle cx="1200.2" cy="106.8" r="10.9" fill="#E8954F"/><circle cx="1226.4" cy="100.3" r="10.9" fill="#E8954F"/><circle cx="1251.5" cy="94.3" r="10.9" fill="#E8954F"/><circle cx="1277.5" cy="94.8" r="10.9" fill="#E8954F"/><circle cx="1303.0" cy="97.0" r="10.9" fill="#E8954F"/><circle cx="1328.6" cy="102.0" r="10.9" fill="#E8954F"/><circle cx="1354.1" cy="108.6" r="10.9" fill="#E8954F"/><circle cx="1380.0" cy="129.7" r="10.9" fill="#E8954F"/><circle cx="1405.5" cy="158.5" r="10.9" fill="#E8954F"/>
</g>
<clipPath id="clip01"><rect x="104.1" y="460.2" width="551.2" height="287.0"/></clipPath>
<g clip-path="url(#clip01)">
<path d="M113.5 472.4L113.5 490.0L113.5 507.0L117.3 517.0L120.3 527.0L128.8 539.7L137.9 550.7L146.6 560.3" fill="none" stroke="#000" stroke-width="1.8" stroke-linejoin="round"/><rect x="105.2" y="464.1" width="16.6" height="16.6" fill="#fff" stroke="#000" stroke-width="1.7"/><rect x="105.2" y="481.7" width="16.6" height="16.6" fill="#fff" stroke="#000" stroke-width="1.7"/><rect x="105.2" y="498.7" width="16.6" height="16.6" fill="#fff" stroke="#000" stroke-width="1.7"/><rect x="109.0" y="508.7" width="16.6" height="16.6" fill="#fff" stroke="#000" stroke-width="1.7"/><rect x="112.0" y="518.7" width="16.6" height="16.6" fill="#fff" stroke="#000" stroke-width="1.7"/><rect x="120.5" y="531.4" width="16.6" height="16.6" fill="#fff" stroke="#000" stroke-width="1.7"/><rect x="129.6" y="542.4" width="16.6" height="16.6" fill="#fff" stroke="#000" stroke-width="1.7"/><rect x="138.3" y="552.0" width="16.6" height="16.6" fill="#fff" stroke="#000" stroke-width="1.7"/>
<path d="M112.0 490.1L116.4 520.4L130.6 531.3L151.0 539.3L176.6 547.8L195.3 552.3L214.7 557.2L239.6 562.9L259.8 566.5L277.2 570.2L300.0 573.7L325.2 580.8L342.8 585.1L368.3 591.2L387.1 596.0L406.5 600.9L432.0 608.2L450.8 614.2L470.6 620.5L496.1 629.6L515.5 638.1L534.6 647.5L560.4 660.8L579.9 672.5L597.5 681.8" fill="none" stroke="#008080" stroke-width="1.8" stroke-linejoin="round"/><path d="M112.0 476.8L123.6 496.8H100.4Z" fill="#fff" stroke="#008080" stroke-width="1.8"/><path d="M116.4 507.1L128.0 527.1H104.8Z" fill="#fff" stroke="#008080" stroke-width="1.8"/><path d="M130.6 518.0L142.2 538.0H119.0Z" fill="#fff" stroke="#008080" stroke-width="1.8"/><path d="M151.0 526.0L162.6 546.0H139.4Z" fill="#fff" stroke="#008080" stroke-width="1.8"/><path d="M176.6 534.5L188.2 554.5H165.0Z" fill="#fff" stroke="#008080" stroke-width="1.8"/><path d="M195.3 539.0L206.9 559.0H183.7Z" fill="#fff" stroke="#008080" stroke-width="1.8"/><path d="M214.7 543.9L226.3 563.9H203.1Z" fill="#fff" stroke="#008080" stroke-width="1.8"/><path d="M239.6 549.6L251.2 569.6H228.0Z" fill="#fff" stroke="#008080" stroke-width="1.8"/><path d="M259.8 553.2L271.4 573.2H248.2Z" fill="#fff" stroke="#008080" stroke-width="1.8"/><path d="M277.2 556.9L288.8 576.9H265.6Z" fill="#fff" stroke="#008080" stroke-width="1.8"/><path d="M300.0 560.4L311.6 580.4H288.4Z" fill="#fff" stroke="#008080" stroke-width="1.8"/><path d="M325.2 567.5L336.8 587.5H313.6Z" fill="#fff" stroke="#008080" stroke-width="1.8"/><path d="M342.8 571.8L354.4 591.8H331.2Z" fill="#fff" stroke="#008080" stroke-width="1.8"/><path d="M368.3 577.9L379.9 597.9H356.7Z" fill="#fff" stroke="#008080" stroke-width="1.8"/><path d="M387.1 582.7L398.7 602.7H375.5Z" fill="#fff" stroke="#008080" stroke-width="1.8"/><path d="M406.5 587.6L418.1 607.6H394.9Z" fill="#fff" stroke="#008080" stroke-width="1.8"/><path d="M432.0 594.9L443.6 614.9H420.4Z" fill="#fff" stroke="#008080" stroke-width="1.8"/><path d="M450.8 600.9L462.4 620.9H439.2Z" fill="#fff" stroke="#008080" stroke-width="1.8"/><path d="M470.6 607.2L482.2 627.2H459.0Z" fill="#fff" stroke="#008080" stroke-width="1.8"/><path d="M496.1 616.3L507.7 636.3H484.5Z" fill="#fff" stroke="#008080" stroke-width="1.8"/><path d="M515.5 624.8L527.1 644.8H503.9Z" fill="#fff" stroke="#008080" stroke-width="1.8"/><path d="M534.6 634.2L546.2 654.2H523.0Z" fill="#fff" stroke="#008080" stroke-width="1.8"/><path d="M560.4 647.5L572.0 667.5H548.8Z" fill="#fff" stroke="#008080" stroke-width="1.8"/><path d="M579.9 659.2L591.5 679.2H568.3Z" fill="#fff" stroke="#008080" stroke-width="1.8"/><path d="M597.5 668.5L609.1 688.5H585.9Z" fill="#fff" stroke="#008080" stroke-width="1.8"/>
<path d="M113.0 469.0L118.8 501.1L125.5 511.8L138.2 522.4L163.5 533.3L189.2 541.4L214.7 547.8L240.5 553.1L272.3 559.7L297.7 564.0L323.4 569.0L348.9 574.3L374.4 579.2L399.9 584.6L431.8 592.5L457.9 600.0L482.8 608.9L508.6 618.6L534.6 630.4L560.1 642.9L592.0 662.5L617.5 683.4" fill="none" stroke="#E8954F" stroke-width="1.8" stroke-linejoin="round"/><circle cx="113.0" cy="469.0" r="9.7" fill="#fff" stroke="#E8954F" stroke-width="1.8"/><circle cx="118.8" cy="501.1" r="9.7" fill="#fff" stroke="#E8954F" stroke-width="1.8"/><circle cx="125.5" cy="511.8" r="9.7" fill="#fff" stroke="#E8954F" stroke-width="1.8"/><circle cx="138.2" cy="522.4" r="9.7" fill="#fff" stroke="#E8954F" stroke-width="1.8"/><circle cx="163.5" cy="533.3" r="9.7" fill="#fff" stroke="#E8954F" stroke-width="1.8"/><circle cx="189.2" cy="541.4" r="9.7" fill="#fff" stroke="#E8954F" stroke-width="1.8"/><circle cx="214.7" cy="547.8" r="9.7" fill="#fff" stroke="#E8954F" stroke-width="1.8"/><circle cx="240.5" cy="553.1" r="9.7" fill="#fff" stroke="#E8954F" stroke-width="1.8"/><circle cx="272.3" cy="559.7" r="9.7" fill="#fff" stroke="#E8954F" stroke-width="1.8"/><circle cx="297.7" cy="564.0" r="9.7" fill="#fff" stroke="#E8954F" stroke-width="1.8"/><circle cx="323.4" cy="569.0" r="9.7" fill="#fff" stroke="#E8954F" stroke-width="1.8"/><circle cx="348.9" cy="574.3" r="9.7" fill="#fff" stroke="#E8954F" stroke-width="1.8"/><circle cx="374.4" cy="579.2" r="9.7" fill="#fff" stroke="#E8954F" stroke-width="1.8"/><circle cx="399.9" cy="584.6" r="9.7" fill="#fff" stroke="#E8954F" stroke-width="1.8"/><circle cx="431.8" cy="592.5" r="9.7" fill="#fff" stroke="#E8954F" stroke-width="1.8"/><circle cx="457.9" cy="600.0" r="9.7" fill="#fff" stroke="#E8954F" stroke-width="1.8"/><circle cx="482.8" cy="608.9" r="9.7" fill="#fff" stroke="#E8954F" stroke-width="1.8"/><circle cx="508.6" cy="618.6" r="9.7" fill="#fff" stroke="#E8954F" stroke-width="1.8"/><circle cx="534.6" cy="630.4" r="9.7" fill="#fff" stroke="#E8954F" stroke-width="1.8"/><circle cx="560.1" cy="642.9" r="9.7" fill="#fff" stroke="#E8954F" stroke-width="1.8"/><circle cx="592.0" cy="662.5" r="9.7" fill="#fff" stroke="#E8954F" stroke-width="1.8"/><circle cx="617.5" cy="683.4" r="9.7" fill="#fff" stroke="#E8954F" stroke-width="1.8"/>
<path d="M113.5 745.8L113.5 745.9L113.5 746.0L117.3 741.7L120.3 738.6L128.8 730.3L137.9 722.3L146.6 715.4" fill="none" stroke="#000" stroke-width="1.8" stroke-linejoin="round"/><rect x="103.9" y="736.2" width="19.2" height="19.2" fill="#000"/><rect x="103.9" y="736.3" width="19.2" height="19.2" fill="#000"/><rect x="103.9" y="736.4" width="19.2" height="19.2" fill="#000"/><rect x="107.7" y="732.1" width="19.2" height="19.2" fill="#000"/><rect x="110.7" y="729.0" width="19.2" height="19.2" fill="#000"/><rect x="119.2" y="720.7" width="19.2" height="19.2" fill="#000"/><rect x="128.3" y="712.7" width="19.2" height="19.2" fill="#000"/><rect x="137.0" y="705.8" width="19.2" height="19.2" fill="#000"/>
<path d="M112.0 747.8L116.4 742.8L130.6 727.7L151.0 707.3L176.6 683.4L195.3 666.7L214.7 650.3L239.6 630.3L259.8 614.4L277.2 601.7L300.0 584.9L325.2 570.6L342.8 560.9L368.3 548.1L387.1 540.0L406.5 532.6L432.0 525.6L450.8 522.7L470.6 520.8L496.1 522.1L515.5 527.8L534.6 537.2L560.4 554.1L579.9 573.0L597.5 588.9" fill="none" stroke="#008080" stroke-width="1.8" stroke-linejoin="round"/><path d="M112.0 733.2L124.8 755.2H99.2Z" fill="#008080"/><path d="M116.4 728.1L129.2 750.1H103.6Z" fill="#008080"/><path d="M130.6 713.0L143.4 735.0H117.8Z" fill="#008080"/><path d="M151.0 692.6L163.8 714.6H138.2Z" fill="#008080"/><path d="M176.6 668.8L189.4 690.8H163.8Z" fill="#008080"/><path d="M195.3 652.0L208.1 674.0H182.5Z" fill="#008080"/><path d="M214.7 635.6L227.5 657.6H201.9Z" fill="#008080"/><path d="M239.6 615.6L252.4 637.6H226.8Z" fill="#008080"/><path d="M259.8 599.7L272.6 621.7H247.0Z" fill="#008080"/><path d="M277.2 587.1L290.0 609.1H264.4Z" fill="#008080"/><path d="M300.0 570.2L312.8 592.2H287.2Z" fill="#008080"/><path d="M325.2 555.9L338.0 577.9H312.4Z" fill="#008080"/><path d="M342.8 546.2L355.6 568.2H330.0Z" fill="#008080"/><path d="M368.3 533.4L381.1 555.4H355.5Z" fill="#008080"/><path d="M387.1 525.4L399.9 547.4H374.3Z" fill="#008080"/><path d="M406.5 517.9L419.3 539.9H393.7Z" fill="#008080"/><path d="M432.0 510.9L444.8 532.9H419.2Z" fill="#008080"/><path d="M450.8 508.0L463.6 530.0H438.0Z" fill="#008080"/><path d="M470.6 506.1L483.4 528.1H457.8Z" fill="#008080"/><path d="M496.1 507.4L508.9 529.4H483.3Z" fill="#008080"/><path d="M515.5 513.1L528.3 535.1H502.7Z" fill="#008080"/><path d="M534.6 522.5L547.4 544.5H521.8Z" fill="#008080"/><path d="M560.4 539.4L573.2 561.4H547.6Z" fill="#008080"/><path d="M579.9 558.3L592.7 580.3H567.1Z" fill="#008080"/><path d="M597.5 574.3L610.3 596.3H584.7Z" fill="#008080"/>
<path d="M113.0 746.0L118.8 739.6L125.5 731.1L138.2 717.1L163.7 689.8L189.2 664.9L214.7 640.7L240.5 617.0L272.0 590.5L297.5 570.1L323.4 550.4L348.5 532.5L374.3 516.5L399.7 502.8L431.9 488.5L457.4 481.3L483.0 478.4L508.4 480.8L534.3 488.8L559.9 502.2L592.1 534.4L617.5 577.9" fill="none" stroke="#E8954F" stroke-width="1.8" stroke-linejoin="round"/><circle cx="113.0" cy="746.0" r="10.9" fill="#E8954F"/><circle cx="118.8" cy="739.6" r="10.9" fill="#E8954F"/><circle cx="125.5" cy="731.1" r="10.9" fill="#E8954F"/><circle cx="138.2" cy="717.1" r="10.9" fill="#E8954F"/><circle cx="163.7" cy="689.8" r="10.9" fill="#E8954F"/><circle cx="189.2" cy="664.9" r="10.9" fill="#E8954F"/><circle cx="214.7" cy="640.7" r="10.9" fill="#E8954F"/><circle cx="240.5" cy="617.0" r="10.9" fill="#E8954F"/><circle cx="272.0" cy="590.5" r="10.9" fill="#E8954F"/><circle cx="297.5" cy="570.1" r="10.9" fill="#E8954F"/><circle cx="323.4" cy="550.4" r="10.9" fill="#E8954F"/><circle cx="348.5" cy="532.5" r="10.9" fill="#E8954F"/><circle cx="374.3" cy="516.5" r="10.9" fill="#E8954F"/><circle cx="399.7" cy="502.8" r="10.9" fill="#E8954F"/><circle cx="431.9" cy="488.5" r="10.9" fill="#E8954F"/><circle cx="457.4" cy="481.3" r="10.9" fill="#E8954F"/><circle cx="483.0" cy="478.4" r="10.9" fill="#E8954F"/><circle cx="508.4" cy="480.8" r="10.9" fill="#E8954F"/><circle cx="534.3" cy="488.8" r="10.9" fill="#E8954F"/><circle cx="559.9" cy="502.2" r="10.9" fill="#E8954F"/><circle cx="592.1" cy="534.4" r="10.9" fill="#E8954F"/><circle cx="617.5" cy="577.9" r="10.9" fill="#E8954F"/>
</g>
<clipPath id="clip11"><rect x="897.7" y="460.2" width="551.2" height="287.0"/></clipPath>
<g clip-path="url(#clip11)">
<path d="M906.5 487.9L910.8 521.0L925.3 533.8L944.2 542.9L970.2 551.4L989.1 556.2L1008.5 560.8L1034.0 566.5L1053.4 570.8L1072.3 576.1L1097.8 581.2L1117.4 585.7L1136.6 589.9L1162.1 595.6L1181.3 600.2L1200.7 604.9L1226.4 610.8L1245.5 616.0L1264.5 621.1L1290.2 628.5L1309.3 634.1L1328.4 640.1L1354.0 650.0L1373.2 660.7L1392.4 668.2L1418.4 683.9" fill="none" stroke="#008080" stroke-width="1.8" stroke-linejoin="round"/><path d="M906.5 474.6L918.1 494.6H894.9Z" fill="#fff" stroke="#008080" stroke-width="1.8"/><path d="M910.8 507.7L922.4 527.7H899.2Z" fill="#fff" stroke="#008080" stroke-width="1.8"/><path d="M925.3 520.5L936.9 540.5H913.7Z" fill="#fff" stroke="#008080" stroke-width="1.8"/><path d="M944.2 529.6L955.8 549.6H932.6Z" fill="#fff" stroke="#008080" stroke-width="1.8"/><path d="M970.2 538.1L981.8 558.1H958.6Z" fill="#fff" stroke="#008080" stroke-width="1.8"/><path d="M989.1 542.9L1000.7 562.9H977.5Z" fill="#fff" stroke="#008080" stroke-width="1.8"/><path d="M1008.5 547.5L1020.1 567.5H996.9Z" fill="#fff" stroke="#008080" stroke-width="1.8"/><path d="M1034.0 553.2L1045.6 573.2H1022.4Z" fill="#fff" stroke="#008080" stroke-width="1.8"/><path d="M1053.4 557.5L1065.0 577.5H1041.8Z" fill="#fff" stroke="#008080" stroke-width="1.8"/><path d="M1072.3 562.8L1083.9 582.8H1060.7Z" fill="#fff" stroke="#008080" stroke-width="1.8"/><path d="M1097.8 567.9L1109.4 587.9H1086.2Z" fill="#fff" stroke="#008080" stroke-width="1.8"/><path d="M1117.4 572.4L1129.0 592.4H1105.8Z" fill="#fff" stroke="#008080" stroke-width="1.8"/><path d="M1136.6 576.6L1148.2 596.6H1125.0Z" fill="#fff" stroke="#008080" stroke-width="1.8"/><path d="M1162.1 582.3L1173.7 602.3H1150.5Z" fill="#fff" stroke="#008080" stroke-width="1.8"/><path d="M1181.3 586.9L1192.9 606.9H1169.7Z" fill="#fff" stroke="#008080" stroke-width="1.8"/><path d="M1200.7 591.6L1212.3 611.6H1189.1Z" fill="#fff" stroke="#008080" stroke-width="1.8"/><path d="M1226.4 597.5L1238.0 617.5H1214.8Z" fill="#fff" stroke="#008080" stroke-width="1.8"/><path d="M1245.5 602.7L1257.1 622.7H1233.9Z" fill="#fff" stroke="#008080" stroke-width="1.8"/><path d="M1264.5 607.8L1276.1 627.8H1252.9Z" fill="#fff" stroke="#008080" stroke-width="1.8"/><path d="M1290.2 615.2L1301.8 635.2H1278.6Z" fill="#fff" stroke="#008080" stroke-width="1.8"/><path d="M1309.3 620.8L1320.9 640.8H1297.7Z" fill="#fff" stroke="#008080" stroke-width="1.8"/><path d="M1328.4 626.8L1340.0 646.8H1316.8Z" fill="#fff" stroke="#008080" stroke-width="1.8"/><path d="M1354.0 636.7L1365.6 656.7H1342.4Z" fill="#fff" stroke="#008080" stroke-width="1.8"/><path d="M1373.2 647.4L1384.8 667.4H1361.6Z" fill="#fff" stroke="#008080" stroke-width="1.8"/><path d="M1392.4 654.9L1404.0 674.9H1380.8Z" fill="#fff" stroke="#008080" stroke-width="1.8"/><path d="M1418.4 670.6L1430.0 690.6H1406.8Z" fill="#fff" stroke="#008080" stroke-width="1.8"/>
<path d="M906.5 463.5L912.6 489.0L918.7 504.2L925.3 511.1L950.8 524.2L976.3 532.1L1001.8 538.1L1027.3 543.0L1052.8 547.5L1072.3 550.3L1097.8 554.7L1123.3 560.0L1148.7 565.5L1174.2 571.0L1199.7 576.8L1225.2 582.9L1250.9 589.8L1270.0 595.5L1295.8 604.2L1321.7 613.4L1347.3 624.7L1372.8 638.3L1398.4 655.8" fill="none" stroke="#E8954F" stroke-width="1.8" stroke-linejoin="round"/><circle cx="906.5" cy="463.5" r="9.7" fill="#fff" stroke="#E8954F" stroke-width="1.8"/><circle cx="912.6" cy="489.0" r="9.7" fill="#fff" stroke="#E8954F" stroke-width="1.8"/><circle cx="918.7" cy="504.2" r="9.7" fill="#fff" stroke="#E8954F" stroke-width="1.8"/><circle cx="925.3" cy="511.1" r="9.7" fill="#fff" stroke="#E8954F" stroke-width="1.8"/><circle cx="950.8" cy="524.2" r="9.7" fill="#fff" stroke="#E8954F" stroke-width="1.8"/><circle cx="976.3" cy="532.1" r="9.7" fill="#fff" stroke="#E8954F" stroke-width="1.8"/><circle cx="1001.8" cy="538.1" r="9.7" fill="#fff" stroke="#E8954F" stroke-width="1.8"/><circle cx="1027.3" cy="543.0" r="9.7" fill="#fff" stroke="#E8954F" stroke-width="1.8"/><circle cx="1052.8" cy="547.5" r="9.7" fill="#fff" stroke="#E8954F" stroke-width="1.8"/><circle cx="1072.3" cy="550.3" r="9.7" fill="#fff" stroke="#E8954F" stroke-width="1.8"/><circle cx="1097.8" cy="554.7" r="9.7" fill="#fff" stroke="#E8954F" stroke-width="1.8"/><circle cx="1123.3" cy="560.0" r="9.7" fill="#fff" stroke="#E8954F" stroke-width="1.8"/><circle cx="1148.7" cy="565.5" r="9.7" fill="#fff" stroke="#E8954F" stroke-width="1.8"/><circle cx="1174.2" cy="571.0" r="9.7" fill="#fff" stroke="#E8954F" stroke-width="1.8"/><circle cx="1199.7" cy="576.8" r="9.7" fill="#fff" stroke="#E8954F" stroke-width="1.8"/><circle cx="1225.2" cy="582.9" r="9.7" fill="#fff" stroke="#E8954F" stroke-width="1.8"/><circle cx="1250.9" cy="589.8" r="9.7" fill="#fff" stroke="#E8954F" stroke-width="1.8"/><circle cx="1270.0" cy="595.5" r="9.7" fill="#fff" stroke="#E8954F" stroke-width="1.8"/><circle cx="1295.8" cy="604.2" r="9.7" fill="#fff" stroke="#E8954F" stroke-width="1.8"/><circle cx="1321.7" cy="613.4" r="9.7" fill="#fff" stroke="#E8954F" stroke-width="1.8"/><circle cx="1347.3" cy="624.7" r="9.7" fill="#fff" stroke="#E8954F" stroke-width="1.8"/><circle cx="1372.8" cy="638.3" r="9.7" fill="#fff" stroke="#E8954F" stroke-width="1.8"/><circle cx="1398.4" cy="655.8" r="9.7" fill="#fff" stroke="#E8954F" stroke-width="1.8"/>
<path d="M906.5 746.7L910.8 741.9L925.3 726.8L944.2 708.4L970.2 684.6L989.1 668.1L1008.5 652.0L1034.0 631.9L1053.4 617.5L1072.3 605.3L1097.8 588.4L1117.4 576.9L1136.6 566.3L1162.1 553.5L1181.3 545.3L1200.7 538.0L1226.4 529.2L1245.5 525.0L1264.5 521.7L1290.2 519.7L1309.3 519.6L1328.4 521.5L1354.0 530.0L1373.2 545.6L1392.4 555.5L1418.4 585.4" fill="none" stroke="#008080" stroke-width="1.8" stroke-linejoin="round"/><path d="M906.5 732.0L919.3 754.0H893.7Z" fill="#008080"/><path d="M910.8 727.2L923.6 749.2H898.0Z" fill="#008080"/><path d="M925.3 712.1L938.1 734.1H912.5Z" fill="#008080"/><path d="M944.2 693.7L957.0 715.7H931.4Z" fill="#008080"/><path d="M970.2 669.9L983.0 691.9H957.4Z" fill="#008080"/><path d="M989.1 653.4L1001.9 675.4H976.3Z" fill="#008080"/><path d="M1008.5 637.3L1021.3 659.3H995.7Z" fill="#008080"/><path d="M1034.0 617.2L1046.8 639.2H1021.2Z" fill="#008080"/><path d="M1053.4 602.9L1066.2 624.9H1040.6Z" fill="#008080"/><path d="M1072.3 590.6L1085.1 612.6H1059.5Z" fill="#008080"/><path d="M1097.8 573.7L1110.6 595.7H1085.0Z" fill="#008080"/><path d="M1117.4 562.2L1130.2 584.2H1104.6Z" fill="#008080"/><path d="M1136.6 551.6L1149.4 573.6H1123.8Z" fill="#008080"/><path d="M1162.1 538.9L1174.9 560.9H1149.3Z" fill="#008080"/><path d="M1181.3 530.7L1194.1 552.7H1168.5Z" fill="#008080"/><path d="M1200.7 523.3L1213.5 545.3H1187.9Z" fill="#008080"/><path d="M1226.4 514.5L1239.2 536.5H1213.6Z" fill="#008080"/><path d="M1245.5 510.3L1258.3 532.3H1232.7Z" fill="#008080"/><path d="M1264.5 507.0L1277.3 529.0H1251.7Z" fill="#008080"/><path d="M1290.2 505.0L1303.0 527.0H1277.4Z" fill="#008080"/><path d="M1309.3 505.0L1322.1 527.0H1296.5Z" fill="#008080"/><path d="M1328.4 506.8L1341.2 528.8H1315.6Z" fill="#008080"/><path d="M1354.0 515.3L1366.8 537.3H1341.2Z" fill="#008080"/><path d="M1373.2 530.9L1386.0 552.9H1360.4Z" fill="#008080"/><path d="M1392.4 540.8L1405.2 562.8H1379.6Z" fill="#008080"/><path d="M1418.4 570.7L1431.2 592.7H1405.6Z" fill="#008080"/>
<path d="M906.5 746.6L912.6 738.8L918.7 731.9L925.3 724.6L950.8 697.5L976.3 671.9L1001.8 647.3L1027.3 623.7L1052.8 601.0L1072.3 583.9L1097.8 563.1L1123.3 544.3L1148.7 527.2L1174.2 511.5L1199.7 497.6L1225.2 485.6L1250.9 476.4L1270.0 471.7L1295.8 469.1L1321.7 469.7L1347.3 477.5L1372.8 493.6L1398.4 522.7" fill="none" stroke="#E8954F" stroke-width="1.8" stroke-linejoin="round"/><circle cx="906.5" cy="746.6" r="10.9" fill="#E8954F"/><circle cx="912.6" cy="738.8" r="10.9" fill="#E8954F"/><circle cx="918.7" cy="731.9" r="10.9" fill="#E8954F"/><circle cx="925.3" cy="724.6" r="10.9" fill="#E8954F"/><circle cx="950.8" cy="697.5" r="10.9" fill="#E8954F"/><circle cx="976.3" cy="671.9" r="10.9" fill="#E8954F"/><circle cx="1001.8" cy="647.3" r="10.9" fill="#E8954F"/><circle cx="1027.3" cy="623.7" r="10.9" fill="#E8954F"/><circle cx="1052.8" cy="601.0" r="10.9" fill="#E8954F"/><circle cx="1072.3" cy="583.9" r="10.9" fill="#E8954F"/><circle cx="1097.8" cy="563.1" r="10.9" fill="#E8954F"/><circle cx="1123.3" cy="544.3" r="10.9" fill="#E8954F"/><circle cx="1148.7" cy="527.2" r="10.9" fill="#E8954F"/><circle cx="1174.2" cy="511.5" r="10.9" fill="#E8954F"/><circle cx="1199.7" cy="497.6" r="10.9" fill="#E8954F"/><circle cx="1225.2" cy="485.6" r="10.9" fill="#E8954F"/><circle cx="1250.9" cy="476.4" r="10.9" fill="#E8954F"/><circle cx="1270.0" cy="471.7" r="10.9" fill="#E8954F"/><circle cx="1295.8" cy="469.1" r="10.9" fill="#E8954F"/><circle cx="1321.7" cy="469.7" r="10.9" fill="#E8954F"/><circle cx="1347.3" cy="477.5" r="10.9" fill="#E8954F"/><circle cx="1372.8" cy="493.6" r="10.9" fill="#E8954F"/><circle cx="1398.4" cy="522.7" r="10.9" fill="#E8954F"/>
</g>
<path d="M374.2 50.0H436.2" stroke="#000" stroke-width="2"/><rect x="395.6" y="40.4" width="19.2" height="19.2" fill="#000"/>
<path d="M374.2 85.0H436.2" stroke="#008080" stroke-width="2"/><path d="M405.2 70.3L418.0 92.3H392.4Z" fill="#008080"/>
<path d="M374.2 119.5H436.2" stroke="#E8954F" stroke-width="2"/><circle cx="405.2" cy="119.5" r="10.9" fill="#E8954F"/>
<text x="451.01" y="59.0" font-size="28" font-weight="normal" textLength="65.24" lengthAdjust="spacingAndGlyphs" ><tspan font-style="italic">p</tspan>-PBI</text>
<text x="450.01" y="93.0" font-size="28" font-weight="normal" textLength="124.60" lengthAdjust="spacingAndGlyphs" >CeHP&#8211;PBI</text>
<text x="450.20" y="128.0" font-size="28" font-weight="normal" textLength="193.79" lengthAdjust="spacingAndGlyphs" >SAN&#8211;CeHP&#8211;PBI</text>
<path d="M187.4 192.3H144.6" stroke="#424E66" stroke-width="2"/>
<path d="M134.6 192.3L147.3 187.2L144.8 192.3L147.3 197.4Z" fill="#424E66"/>
<path d="M443.0 207.1H486.6" stroke="#424E66" stroke-width="2"/>
<path d="M496.6 207.1L483.9 202.0L486.4 207.1L483.9 212.2Z" fill="#424E66"/>
<path d="M976.3 156.5H933.5" stroke="#424E66" stroke-width="2"/>
<path d="M923.5 156.5L936.2 151.4L933.7 156.5L936.2 161.6Z" fill="#424E66"/>
<path d="M1381.4 109.2H1424.2" stroke="#424E66" stroke-width="2"/>
<path d="M1434.2 109.2L1421.5 104.1L1424.0 109.2L1421.5 114.3Z" fill="#424E66"/>
<path d="M448.6 636.4H405.6" stroke="#424E66" stroke-width="2"/>
<path d="M395.6 636.4L408.3 631.3L405.8 636.4L408.3 641.5Z" fill="#424E66"/>
<path d="M586.7 507.6H629.8" stroke="#424E66" stroke-width="2"/>
<path d="M639.8 507.6L627.1 502.5L629.6 507.6L627.1 512.7Z" fill="#424E66"/>
<path d="M1286.7 654.0H1244.0" stroke="#424E66" stroke-width="2"/>
<path d="M1234.0 654.0L1246.7 648.9L1244.2 654.0L1246.7 659.1Z" fill="#424E66"/>
<path d="M1383.3 485.3H1426.0" stroke="#424E66" stroke-width="2"/>
<path d="M1436.0 485.3L1423.3 480.2L1425.8 485.3L1423.3 490.4Z" fill="#424E66"/>
<path d="M93.7 893.3H1416.3M93.7 1243.1H1416.3M104.2 893.3V1253.6M1416.3 893.3V1253.6" stroke="#1c1c1c" stroke-width="1.5" fill="none"/>
<text x="67.41" y="1251.3" font-size="24" font-weight="normal" textLength="15.34" lengthAdjust="spacingAndGlyphs" >0</text>
<text x="47.57" y="1181.3" font-size="24" font-weight="normal" textLength="34.99" lengthAdjust="spacingAndGlyphs" >0.2</text>
<text x="46.94" y="1111.4" font-size="24" font-weight="normal" textLength="35.62" lengthAdjust="spacingAndGlyphs" >0.4</text>
<text x="46.57" y="1041.4" font-size="24" font-weight="normal" textLength="35.90" lengthAdjust="spacingAndGlyphs" >0.6</text>
<text x="46.94" y="971.5" font-size="24" font-weight="normal" textLength="35.62" lengthAdjust="spacingAndGlyphs" >0.8</text>
<text x="48.93" y="901.5" font-size="24" font-weight="normal" textLength="33.73" lengthAdjust="spacingAndGlyphs" >1.0</text>
<text x="97.05" y="1282.6" font-size="24" font-weight="normal" textLength="14.44" lengthAdjust="spacingAndGlyphs" >0</text>
<text x="220.68" y="1282.6" font-size="24" font-weight="normal" textLength="28.86" lengthAdjust="spacingAndGlyphs" >20</text>
<text x="352.05" y="1282.6" font-size="24" font-weight="normal" textLength="28.86" lengthAdjust="spacingAndGlyphs" >40</text>
<text x="482.52" y="1282.6" font-size="24" font-weight="normal" textLength="29.76" lengthAdjust="spacingAndGlyphs" >60</text>
<text x="613.89" y="1282.6" font-size="24" font-weight="normal" textLength="28.86" lengthAdjust="spacingAndGlyphs" >80</text>
<text x="737.94" y="1282.6" font-size="24" font-weight="normal" textLength="42.75" lengthAdjust="spacingAndGlyphs" >100</text>
<text x="868.41" y="1282.6" font-size="24" font-weight="normal" textLength="43.65" lengthAdjust="spacingAndGlyphs" >120</text>
<text x="999.78" y="1282.6" font-size="24" font-weight="normal" textLength="43.65" lengthAdjust="spacingAndGlyphs" >140</text>
<text x="1131.15" y="1282.6" font-size="24" font-weight="normal" textLength="42.75" lengthAdjust="spacingAndGlyphs" >160</text>
<text x="1261.62" y="1282.6" font-size="24" font-weight="normal" textLength="43.65" lengthAdjust="spacingAndGlyphs" >180</text>
<text x="1393.89" y="1282.6" font-size="24" font-weight="normal" textLength="42.75" lengthAdjust="spacingAndGlyphs" >200</text>
<path d="M93.7 1243.1H104.2M93.7 1173.1H104.2M93.7 1103.2H104.2M93.7 1033.2H104.2M93.7 963.3H104.2M93.7 893.3H104.2M235.3 1243.1V1253.6M366.4 1243.1V1253.6M497.5 1243.1V1253.6M628.6 1243.1V1253.6M759.7 1243.1V1253.6M890.8 1243.1V1253.6M1021.9 1243.1V1253.6M1153.0 1243.1V1253.6M1284.1 1243.1V1253.6" stroke="#1c1c1c" stroke-width="1.5" fill="none"/>
<text x="709.52" y="1324.5" font-size="28" font-weight="normal" textLength="102.86" lengthAdjust="spacingAndGlyphs" >Time (h)</text>
<text transform="translate(21.7,1137.7) rotate(-90)" font-size="27" x="0" y="0" textLength="141" lengthAdjust="spacingAndGlyphs">Voltage (V)</text>
<text x="0.5" y="893.8" font-size="39" text-anchor="start" font-weight="bold" stroke="#000" stroke-width="0.8" textLength="22" lengthAdjust="spacingAndGlyphs">e</text>
<text x="120.81" y="938.5" font-size="28" font-weight="normal" textLength="351.36" lengthAdjust="spacingAndGlyphs" >H<tspan dy="8" font-size="18">2</tspan><tspan dy="-8">/air, 250 °C @ 0.4 A cm</tspan><tspan dy="-12" font-size="18">&#8722;2</tspan></text>
<clipPath id="clipe"><rect x="104.2" y="893.3" width="1312.1" height="349.8"/></clipPath>
<g clip-path="url(#clipe)">
<path d="M104.2 1025H114V1107H118.1V1125.6L114.6 1173.6V1190.2H104.2Z" fill="#000"/><rect x="104.2" y="1191.6" width="9.8" height="19.1" fill="#000"/>
<path d="M107.0 1027.8L119.8 1049.8H94.2Z" fill="#008080"/><path d="M125.7 1025.6L138.5 1047.6H112.9Z" fill="#008080"/><path d="M147.1 1027.8L159.9 1049.8H134.3Z" fill="#008080"/><path d="M168.6 1030.8L181.4 1052.8H155.8Z" fill="#008080"/><path d="M190.9 1033.3L203.7 1055.3H178.1Z" fill="#008080"/><path d="M213.0 1037.0L225.8 1059.0H200.2Z" fill="#008080"/><path d="M234.8 1040.0L247.6 1062.0H222.0Z" fill="#008080"/><path d="M256.8 1045.2L269.6 1067.2H244.0Z" fill="#008080"/><path d="M278.9 1049.2L291.7 1071.2H266.1Z" fill="#008080"/><path d="M300.4 1051.7L313.2 1073.7H287.6Z" fill="#008080"/><path d="M322.4 1056.9L335.2 1078.9H309.6Z" fill="#008080"/><path d="M344.2 1062.4L357.0 1084.4H331.4Z" fill="#008080"/><path d="M366.3 1069.8L379.1 1091.8H353.5Z" fill="#008080"/><path d="M388.3 1076.8L401.1 1098.8H375.5Z" fill="#008080"/><path d="M410.1 1086.6L422.9 1108.6H397.3Z" fill="#008080"/><path d="M432.2 1096.7L445.0 1118.7H419.4Z" fill="#008080"/><path d="M453.6 1096.7L466.4 1118.7H440.8Z" fill="#008080"/><path d="M475.7 1132.0L488.5 1154.0H462.9Z" fill="#008080"/><path d="M497.5 1146.4L510.3 1168.4H484.7Z" fill="#008080"/><path d="M519.5 1157.4L532.3 1179.4H506.7Z" fill="#008080"/><path d="M535.8 1175.5L548.6 1197.5H523.0Z" fill="#008080"/>
<circle cx="104.3" cy="1019.7" r="10.9" fill="#E8954F"/><circle cx="131.6" cy="1022.8" r="10.9" fill="#E8954F"/><circle cx="158.9" cy="1022.2" r="10.9" fill="#E8954F"/><circle cx="186.3" cy="1020.7" r="10.9" fill="#E8954F"/><circle cx="213.6" cy="1013.6" r="10.9" fill="#E8954F"/><circle cx="240.9" cy="1011.5" r="10.9" fill="#E8954F"/><circle cx="268.2" cy="1012.1" r="10.9" fill="#E8954F"/><circle cx="295.5" cy="1010.8" r="10.9" fill="#E8954F"/><circle cx="322.9" cy="1011.5" r="10.9" fill="#E8954F"/><circle cx="350.2" cy="1010.8" r="10.9" fill="#E8954F"/><circle cx="377.5" cy="1010.5" r="10.9" fill="#E8954F"/><circle cx="404.8" cy="1010.8" r="10.9" fill="#E8954F"/><circle cx="432.1" cy="1011.5" r="10.9" fill="#E8954F"/><circle cx="459.5" cy="1012.1" r="10.9" fill="#E8954F"/><circle cx="486.8" cy="1012.1" r="10.9" fill="#E8954F"/><circle cx="514.1" cy="1011.5" r="10.9" fill="#E8954F"/><circle cx="541.4" cy="1010.5" r="10.9" fill="#E8954F"/><circle cx="568.7" cy="1011.6" r="10.9" fill="#E8954F"/><circle cx="596.1" cy="1011.7" r="10.9" fill="#E8954F"/><circle cx="623.4" cy="1012.5" r="10.9" fill="#E8954F"/><circle cx="650.7" cy="1013.1" r="10.9" fill="#E8954F"/><circle cx="678.0" cy="1011.7" r="10.9" fill="#E8954F"/><circle cx="705.3" cy="1012.5" r="10.9" fill="#E8954F"/><circle cx="732.7" cy="1013.9" r="10.9" fill="#E8954F"/><circle cx="760.0" cy="1013.9" r="10.9" fill="#E8954F"/><circle cx="787.3" cy="1015.1" r="10.9" fill="#E8954F"/><circle cx="814.6" cy="1015.3" r="10.9" fill="#E8954F"/><circle cx="841.9" cy="1015.9" r="10.9" fill="#E8954F"/><circle cx="869.3" cy="1015.9" r="10.9" fill="#E8954F"/><circle cx="896.6" cy="1016.5" r="10.9" fill="#E8954F"/><circle cx="923.9" cy="1016.5" r="10.9" fill="#E8954F"/><circle cx="951.2" cy="1015.9" r="10.9" fill="#E8954F"/><circle cx="978.5" cy="1015.9" r="10.9" fill="#E8954F"/><circle cx="1005.9" cy="1015.9" r="10.9" fill="#E8954F"/><circle cx="1033.2" cy="1016.5" r="10.9" fill="#E8954F"/><circle cx="1060.5" cy="1017.3" r="10.9" fill="#E8954F"/><circle cx="1087.8" cy="1017.9" r="10.9" fill="#E8954F"/><circle cx="1115.1" cy="1018.7" r="10.9" fill="#E8954F"/><circle cx="1142.5" cy="1019.3" r="10.9" fill="#E8954F"/><circle cx="1169.8" cy="1019.6" r="10.9" fill="#E8954F"/><circle cx="1197.1" cy="1020.1" r="10.9" fill="#E8954F"/><circle cx="1224.4" cy="1021.5" r="10.9" fill="#E8954F"/><circle cx="1251.7" cy="1022.1" r="10.9" fill="#E8954F"/><circle cx="1279.1" cy="1022.9" r="10.9" fill="#E8954F"/><circle cx="1306.4" cy="1023.8" r="10.9" fill="#E8954F"/><circle cx="1333.7" cy="1025.7" r="10.9" fill="#E8954F"/><circle cx="1361.0" cy="1027.7" r="10.9" fill="#E8954F"/><circle cx="1388.3" cy="1029.4" r="10.9" fill="#E8954F"/><circle cx="1415.7" cy="1031.4" r="10.9" fill="#E8954F"/>
</g>
<rect x="1143.6" y="1134.1" width="19.2" height="19.2" fill="#000"/><path d="M1152.9 1165.1L1165.7 1187.1H1140.1Z" fill="#008080"/><circle cx="1152.9" cy="1215.3" r="10.9" fill="#E8954F"/>
<text x="1181.19" y="1153.0" font-size="28" font-weight="normal" textLength="65.48" lengthAdjust="spacingAndGlyphs" ><tspan font-style="italic">p</tspan>-PBI</text>
<text x="1179.43" y="1186.0" font-size="28" font-weight="normal" textLength="126.03" lengthAdjust="spacingAndGlyphs" >CeHP&#8211;PBI</text>
<text x="1179.43" y="1224.8" font-size="28" font-weight="normal" textLength="194.98" lengthAdjust="spacingAndGlyphs" >SAN&#8211;CeHP&#8211;PBI</text>
</svg></body></html>
